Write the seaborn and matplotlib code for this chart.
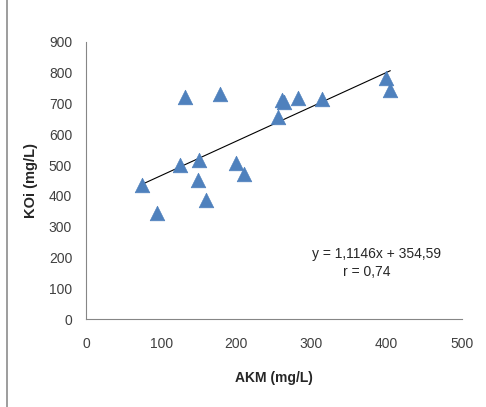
import numpy as np
import pandas as pd
import seaborn as sns
import matplotlib.pyplot as plt
from matplotlib.lines import Line2D

# values
akm = [74, 94, 132, 125, 150, 149, 160, 178, 199, 210, 255, 261, 263, 282, 314, 399, 405]
koi = [435, 346, 722, 500, 516, 452, 387, 730, 506, 471, 655, 711, 705, 716, 714, 781, 743]
slope = 1.1146
intercept = 354.59
eq_text = "y = 1,1146x + 354,59"
r_text = "r = 0,74"
x_ticks = [0, 100, 200, 300, 400, 500]
y_ticks = [0, 100, 200, 300, 400, 500, 600, 700, 800, 900]

df = pd.DataFrame({'AKM': akm, 'KOi': koi})

sns.set_style('white')
plt.rcParams['font.family'] = ['Liberation Sans', 'DejaVu Sans']

fig = plt.figure(figsize=(4.86, 4.07), dpi=100)
ax = fig.add_axes([0.177, 0.2155, 0.773, 0.682])

sns.scatterplot(data=df, x='AKM', y='KOi', marker='^', s=110,
                color='#4F81BD', edgecolor='#4F81BD', linewidth=0.5, ax=ax, zorder=3)

# trend line from the printed equation over the data range
xs = np.array([min(akm), max(akm)])
ax.plot(xs, slope * xs + intercept, color='black', linewidth=0.8, zorder=2)

ax.set_xlim(0, 500)
ax.set_ylim(0, 900)
ax.set_xticks(x_ticks)
ax.set_yticks(y_ticks)
ax.tick_params(axis='both', direction='out', length=4, width=0.8,
               color='#868686', labelsize=10, labelcolor='#404040', pad=9)
ax.tick_params(axis='y', pad=6)

for side in ['top', 'right']:
    ax.spines[side].set_visible(False)
for side in ['left', 'bottom']:
    ax.spines[side].set_color('#868686')
    ax.spines[side].set_linewidth(0.8)

ax.set_xlabel('AKM (mg/L)', fontsize=10, fontweight='bold', color='#262626', labelpad=14)
ax.set_ylabel('KOi (mg/L)', fontsize=10.5, fontweight='bold', color='#262626', labelpad=8)

ax.text(386, 212, eq_text, ha='center', va='center', fontsize=10, color='#262626')
ax.text(374, 152, r_text, ha='center', va='center', fontsize=10, color='#262626')

# left frame edge of the original sheet
fig.add_artist(Line2D([0.015, 0.015], [0.0, 1.0], transform=fig.transFigure,
                      color='#8c8c8c', linewidth=1.2))

plt.savefig('out.png', dpi=100)
